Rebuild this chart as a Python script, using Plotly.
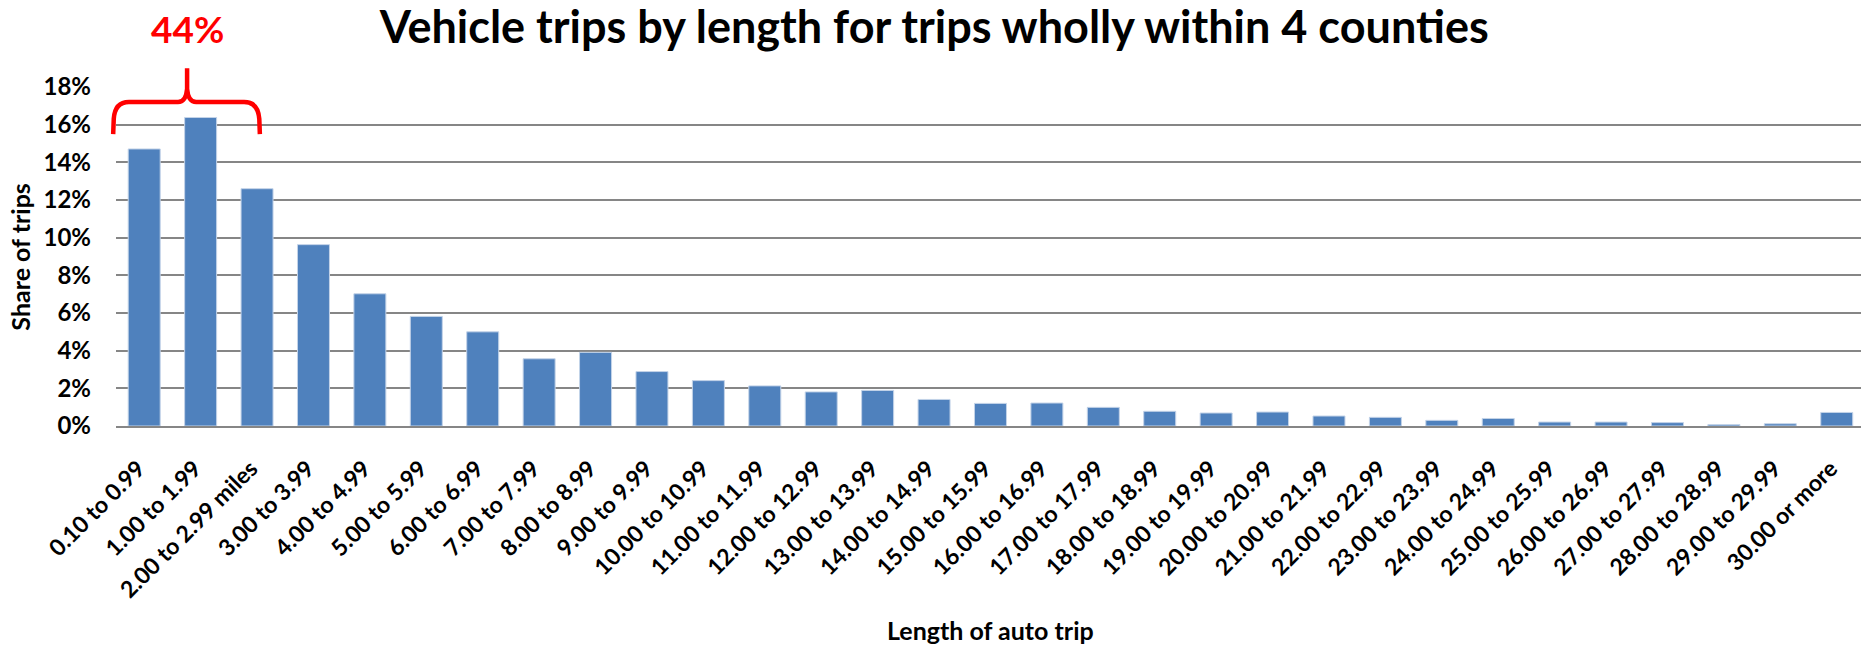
import plotly.graph_objects as go

categories = [
    "0.10 to 0.99", "1.00 to 1.99", "2.00 to 2.99 miles", "3.00 to 3.99", "4.00 to 4.99",
    "5.00 to 5.99", "6.00 to 6.99", "7.00 to 7.99", "8.00 to 8.99", "9.00 to 9.99",
    "10.00 to 10.99", "11.00 to 11.99", "12.00 to 12.99", "13.00 to 13.99", "14.00 to 14.99",
    "15.00 to 15.99", "16.00 to 16.99", "17.00 to 17.99", "18.00 to 18.99", "19.00 to 19.99",
    "20.00 to 20.99", "21.00 to 21.99", "22.00 to 22.99", "23.00 to 23.99", "24.00 to 24.99",
    "25.00 to 25.99", "26.00 to 26.99", "27.00 to 27.99", "28.00 to 28.99", "29.00 to 29.99",
    "30.00 or more",
]
share_pct = [
    14.71, 16.38, 12.60, 9.63, 7.02,
    5.82, 5.00, 3.57, 3.91, 2.89,
    2.41, 2.13, 1.81, 1.89, 1.41,
    1.20, 1.22, 0.99, 0.78, 0.69,
    0.74, 0.53, 0.46, 0.30, 0.40,
    0.21, 0.21, 0.18, 0.08, 0.12,
    0.72,
]
y_ticks = [0, 2, 4, 6, 8, 10, 12, 14, 16, 18]
bracket_count = 3  # first three categories grouped by the brace

FONT = "Lato"
GRID = "#868686"

x_lo, x_hi = -0.5, 30.43
y_lo, y_hi = 0, 18

fig = go.Figure()
fig.add_trace(go.Bar(
    x=categories, y=share_pct,
    marker=dict(color="#4F81BD", line=dict(color="#c3d3e8", width=1)),
    hoverinfo="x+y",
))

# brace geometry in (category index, percent) units
xl, xr, xt = -0.55, bracket_count - 1 + 0.05, 0.76
yb, yh, yt = 15.5, 17.2, 19.0

def dx(v):
    return (v - x_lo) / (x_hi - x_lo)

def dy(v):
    return (v - y_lo) / (y_hi - y_lo)

def pt(x, y):
    return f"{dx(x):.5f},{dy(y):.5f}"

path = (
    f"M {pt(xl, yb)} L {pt(xl + 0.01, yh - 0.9)} Q {pt(xl + 0.03, yh)} {pt(xl + 0.28, yh)} "
    f"L {pt(xt - 0.16, yh)} Q {pt(xt - 0.02, yh)} {pt(xt, yh + 0.7)} L {pt(xt, yt)} "
    f"M {pt(xt, yh + 0.7)} Q {pt(xt + 0.02, yh)} {pt(xt + 0.16, yh)} "
    f"L {pt(xr - 0.28, yh)} Q {pt(xr - 0.03, yh)} {pt(xr - 0.01, yh - 0.9)} L {pt(xr, yb)}"
)
fig.add_shape(type="path", path=path, xref="x domain", yref="y domain",
              line=dict(color="#FF0000", width=4.5), layer="above")

total = round(sum(share_pct[:bracket_count]))
fig.add_annotation(x=xt, y=dy(21.1), xref="x", yref="y domain",
                   text=f"<b>{total}%</b>", showarrow=False,
                   font=dict(family=FONT, size=37, color="#FF0000"),
                   xanchor="center", yanchor="middle")

fig.add_annotation(x=0.501, y=-0.601, xref="paper", yref="paper",
                   text="<b>Length of auto trip</b>", showarrow=False,
                   font=dict(family=FONT, size=25, color="#000000"),
                   xanchor="center", yanchor="middle")

fig.add_annotation(x=-0.0555, y=0.5, xref="paper", yref="paper",
                   text="<b>Share of trips</b>", showarrow=False, textangle=-90,
                   font=dict(family=FONT, size=25, color="#000000"),
                   xanchor="center", yanchor="middle")

fig.update_layout(
    width=1861, height=645,
    margin=dict(l=116, r=0, t=87, b=219),
    paper_bgcolor="white", plot_bgcolor="white",
    bargap=0.433, showlegend=False,
    font=dict(family=FONT, color="#000000"),
    title=dict(text="<b>Vehicle trips by length for trips wholly within 4 counties</b>",
               x=0.502, xref="container", xanchor="center",
               y=1 - 27 / 645, yref="container", yanchor="middle",
               font=dict(family=FONT, size=45, color="#000000")),
)
fig.update_xaxes(
    type="category", range=[x_lo, x_hi],
    tickangle=-45, ticks="", ticklabelstandoff=18, ticklabelshift=-6,
    tickfont=dict(family=FONT, size=23, color="#000000", weight="bold"),
    showline=True, linecolor=GRID, linewidth=2, showgrid=False,
)
fig.update_yaxes(
    range=[y_lo, y_hi], tickvals=y_ticks, ticktext=[f"{v}%" for v in y_ticks],
    ticks="", ticklabelstandoff=24,
    tickfont=dict(family=FONT, size=24, color="#000000", weight="bold"),
    showgrid=True, gridcolor=GRID, gridwidth=2, zeroline=False, showline=False,
)

fig.write_html("out.html", config={"displayModeBar": False},
               post_script="document.body.style.margin='0';document.body.style.overflow='hidden';")
